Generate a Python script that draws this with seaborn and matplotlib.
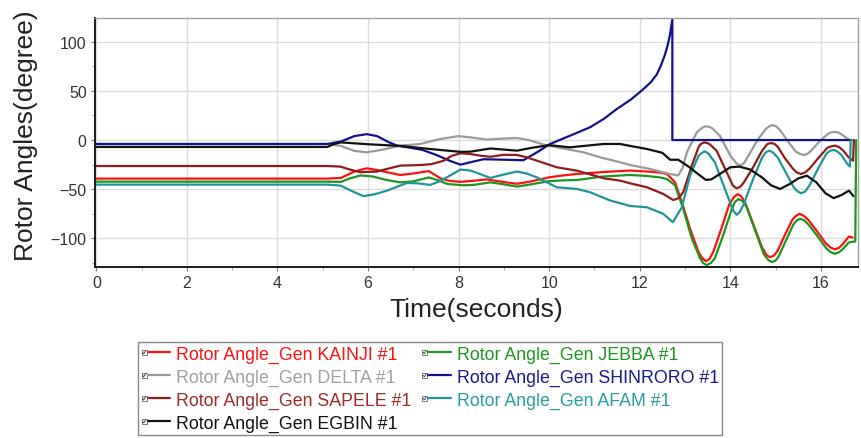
import numpy as np
import pandas as pd
import matplotlib
matplotlib.use("Agg")
import matplotlib.pyplot as plt
from matplotlib.lines import Line2D
from matplotlib.patches import Rectangle
from matplotlib.legend_handler import HandlerBase
from matplotlib.ticker import MultipleLocator
import seaborn as sns

# Rotor angle traces (time in s, angle in degrees) for each generator
kainji_t = [0, 5.1, 5.4, 5.7, 5.97, 6.2, 6.42, 6.71, 7.0, 7.34, 7.6, 7.8, 8.04, 8.3, 8.62, 8.9, 9.29, 9.6, 10.0, 10.3,
            10.61, 11.2, 11.79, 12.16, 12.45, 12.6, 12.78, 12.93, 13.11, 13.3, 13.38, 13.46, 13.54, 13.63, 13.81,
            13.98, 14.08, 14.16, 14.24, 14.34, 14.52, 14.70, 14.8, 14.88, 14.96, 15.04, 15.2, 15.37, 15.45, 15.53,
            15.62, 15.72, 15.92, 16.11, 16.22, 16.31, 16.4, 16.48, 16.62, 16.7]
kainji_v = [-39.2, -39.2, -38.5, -32, -28.7, -30.5, -32.7, -35.5, -34, -31.5, -39, -41.5, -42.5, -41.5, -40, -42, -44.5,
            -42, -37.9, -36, -34.5, -32.5, -31, -32, -33, -34.5, -43, -63, -90, -114, -120, -123, -121, -113, -89,
            -65, -58, -55, -57, -65, -87, -109, -117, -119, -117.5, -113, -97, -81, -77, -75, -77, -81, -93, -105,
            -109.5, -111, -109.5, -106, -98, -99]

jebba_t = [0, 5.1, 5.4, 5.6, 5.83, 6.1, 6.4, 6.71, 7.0, 7.34, 7.55, 7.75, 8.1, 8.33, 8.7, 9.0, 9.29, 9.6, 10.0, 10.3,
           10.61, 11.2, 11.79, 12.16, 12.45, 12.6, 12.78, 12.96, 13.15, 13.33, 13.4, 13.48, 13.57, 13.66, 13.84,
           14.02, 14.1, 14.18, 14.27, 14.36, 14.55, 14.74, 14.84, 14.92, 15.0, 15.07, 15.23, 15.39, 15.46, 15.54,
           15.63, 15.73, 15.93, 16.12, 16.22, 16.31, 16.4, 16.48, 16.62, 16.76, 16.78]
jebba_v = [-42.3, -42.3, -42.5, -39, -36, -37, -40.5, -43, -42, -38, -41, -44.6, -46, -45.6, -43, -45, -47.3, -45,
           -41.8, -41, -40.6, -37, -35.5, -36.5, -38, -39.6, -46, -70, -100, -120, -125, -127, -125, -120, -97, -72,
           -63, -60, -62, -68, -92, -116, -122, -124, -122.5, -118, -102, -86, -82, -80, -81.5, -86, -98, -110,
           -114, -115.6, -114, -111, -104, -103, 0]

delta_t = [0, 5.1, 5.4, 5.7, 5.97, 6.3, 6.71, 7.15, 7.59, 8.0, 8.26, 8.62, 9.0, 9.29, 9.55, 9.87, 10.17, 10.76, 11.13,
           11.57, 11.79, 12.16, 12.67, 12.85, 12.95, 13.04, 13.26, 13.38, 13.45, 13.53, 13.6, 13.77, 14.0, 14.14,
           14.22, 14.3, 14.4, 14.6, 14.78, 14.86, 14.93, 15.01, 15.1, 15.3, 15.45, 15.55, 15.63, 15.71, 15.8, 16.0,
           16.15, 16.22, 16.3, 16.38, 16.45, 16.6, 16.66]
delta_v = [-4, -4, -6, -11, -12.5, -10, -5.7, -4, 1, 4, 2.7, 0.5, 1.5, 2, 0, -4.5, -7.4, -12.5, -17.6, -22.6, -25.4,
           -28.7, -34.5, -36, -28, -12.5, 7.8, 12.5, 13.9, 13.5, 12, 4.4, -15.9, -24, -26, -23.5, -16, 0, 11, 14,
           15.2, 14, 10, -3, -12, -14.3, -15.2, -14, -10, 0, 6, 7.8, 8.2, 7.8, 6, 1, -0.7]

shinroro_t = [0, 5.1, 5.4, 5.7, 5.97, 6.2, 6.45, 6.64, 6.88, 7.2, 7.5, 7.8, 8.04, 8.26, 8.55, 9.0, 9.43, 9.73, 10.02,
              10.46, 10.9, 11.2, 11.49, 11.8, 12.08, 12.25, 12.38, 12.47, 12.56, 12.62, 12.67, 12.72, 12.72, 16.68]
shinroro_v = [-4, -4, -1.5, 4, 6, 4, -2, -5.7, -7.4, -10, -15, -21, -25, -22.6, -19.5, -20, -20.5, -12.5, -4, 4.4,
              12.9, 21.3, 31.4, 41, 51.7, 59, 66.9, 76, 87.2, 97, 107.5, 122.7, 0, 0]

sapele_t = [0, 5.1, 5.39, 5.6, 5.83, 6.2, 6.45, 6.71, 7.15, 7.4, 7.67, 7.85, 8.04, 8.26, 8.48, 8.7, 9.0, 9.29, 9.5,
            9.73, 10.17, 10.61, 11.2, 11.57, 11.79, 12.16, 12.52, 12.74, 12.86, 12.96, 13.15, 13.3, 13.35, 13.42,
            13.49, 13.55, 13.7, 13.92, 14.06, 14.14, 14.22, 14.3, 14.5, 14.7, 14.82, 14.9, 14.98, 15.05, 15.2, 15.38,
            15.47, 15.56, 15.65, 15.75, 15.95, 16.14, 16.22, 16.31, 16.4, 16.5, 16.62, 16.71, 16.73]
sapele_v = [-26.4, -26.4, -27, -30, -32.7, -32, -29, -26, -25.4, -24.5, -21, -16, -13.5, -14.2, -15.9, -17, -15,
            -15.2, -17.5, -21, -27.7, -31.1, -38.8, -41.3, -44, -48, -54.8, -61, -59, -53, -26, -7, -4, -2.4, -3,
            -4.5, -11, -32.7, -46.5, -49, -47.5, -43, -28, -11, -4, -3, -4, -7, -18, -29, -33, -34.5, -33, -29, -18,
            -8, -6.5, -5.7, -7, -11, -18, -21, 0]

afam_t = [0, 5.1, 5.39, 5.65, 5.9, 6.15, 6.42, 6.86, 7.1, 7.37, 7.55, 7.74, 8.04, 8.26, 8.5, 8.7, 9.0, 9.29, 9.5,
          9.73, 10.17, 10.61, 10.9, 11.35, 11.79, 12.16, 12.52, 12.73, 12.93, 13.11, 13.3, 13.37, 13.44, 13.52,
          13.66, 13.88, 14.0, 14.07, 14.14, 14.21, 14.3, 14.5, 14.7, 14.78, 14.86, 14.94, 15.05, 15.25, 15.4, 15.48,
          15.56, 15.65, 15.75, 15.95, 16.12, 16.2, 16.28, 16.36, 16.45, 16.58, 16.64, 16.66]
afam_v = [-45.3, -45.3, -46.3, -52, -57, -55, -51.4, -43.6, -44, -45.6, -42.5, -37.9, -30, -31, -35, -38.5, -35,
          -32, -34, -38, -48, -49.7, -53, -61.5, -67, -68.3, -75, -83.5, -68.3, -36.2, -15.9, -13, -11.5, -14,
          -22.6, -49.7, -64, -72, -76, -73, -65, -40, -18, -12.5, -10.8, -12.5, -18, -35, -48, -52, -54, -52.5,
          -46, -28, -14, -11, -10, -11.5, -15, -24, -27, 0]

egbin_t = [0, 5.1, 5.25, 5.4, 5.97, 6.71, 7.37, 8.04, 8.26, 8.7, 9.29, 9.6, 10.0, 10.46, 11.2, 11.57, 11.79, 12.16,
           12.5, 12.67, 12.85, 13.11, 13.3, 13.46, 13.58, 13.77, 14.0, 14.2, 14.44, 14.7, 14.9, 15.1, 15.3, 15.5,
           15.69, 15.9, 16.1, 16.28, 16.45, 16.62, 16.72]
egbin_v = [-7, -7, -4, -2.4, -4.2, -6, -9.1, -12, -11.8, -8.6, -10.8, -8, -5.2, -7.4, -4, -4, -6, -9.1, -13, -20,
           -20, -28, -35, -40.5, -40, -34.5, -27.7, -27, -30, -38, -46, -49.7, -45, -39, -36.2, -43, -54, -59, -56,
           -51.4, -57]

series_names = ["Rotor Angle_Gen KAINJI #1", "Rotor Angle_Gen JEBBA #1", "Rotor Angle_Gen DELTA #1",
                "Rotor Angle_Gen SHINRORO #1", "Rotor Angle_Gen SAPELE #1", "Rotor Angle_Gen AFAM #1",
                "Rotor Angle_Gen EGBIN #1"]
series_t = [kainji_t, jebba_t, delta_t, shinroro_t, sapele_t, afam_t, egbin_t]
series_v = [kainji_v, jebba_v, delta_v, shinroro_v, sapele_v, afam_v, egbin_v]
series_colors = ["#ff1010", "#1e961e", "#9a9a9a", "#12128c", "#921c1c", "#1f9797", "#111111"]
text_colors = ["#ff1010", "#1e961e", "#a0a0a0", "#1a1a8c", "#9e2a2a", "#2a9d9d", "#111111"]

frames = []
for name, t, v in zip(series_names, series_t, series_v):
    frames.append(pd.DataFrame({"Time": t, "Angle": v, "Series": name}))
df = pd.concat(frames, ignore_index=True)

sns.set_style("white")
plt.rcParams["font.family"] = ["Liberation Sans", "DejaVu Sans"]

fig = plt.figure(figsize=(8.62, 4.39), dpi=100)
ax = fig.add_axes([95 / 862, 1 - 268 / 439, 763 / 862, 249 / 439])

sns.lineplot(data=df, x="Time", y="Angle", hue="Series", hue_order=series_names,
             palette=dict(zip(series_names, series_colors)), sort=False, estimator=None,
             linewidth=1.6, legend=False, ax=ax)

ax.set_xlim(-0.03, 16.82)
ax.set_ylim(-129, 124)
ax.xaxis.set_major_locator(MultipleLocator(2))
ax.xaxis.set_minor_locator(MultipleLocator(1))
ax.yaxis.set_major_locator(MultipleLocator(50))
ax.yaxis.set_minor_locator(MultipleLocator(25))
ax.grid(True, which="major", color="#dcdcdc", linewidth=1.0)
ax.set_axisbelow(True)

for side in ("left", "bottom"):
    ax.spines[side].set_color("#1a1a1a")
    ax.spines[side].set_linewidth(1.4)
for side in ("top", "right"):
    ax.spines[side].set_visible(True)
    ax.spines[side].set_color("#a0a0a0")
    ax.spines[side].set_linewidth(1.0)

ax.tick_params(axis="both", which="major", length=3, width=0.8, color="#777777",
               labelsize=11.5, labelcolor="#333333", pad=3, bottom=True, left=True)
ax.tick_params(axis="both", which="minor", length=2, width=0.6, color="#999999", bottom=True, left=True)

ax.set_xlabel("Time(seconds)", fontsize=19, color="#222222", labelpad=5)
ax.set_ylabel("Rotor Angles(degree)", fontsize=19, color="#222222")
ax.yaxis.set_label_coords(-0.075, 0.53)


class CheckedLine(HandlerBase):
    """Legend key: a small ticked checkbox followed by a short coloured line."""

    def create_artists(self, legend, orig_handle, xdescent, ydescent, width, height, fontsize, trans):
        yc = height / 2 - ydescent
        x0 = -xdescent
        s = 3.8
        box = Rectangle((x0, yc - s / 2), s, s, facecolor="white", edgecolor="#666666",
                        linewidth=0.6, transform=trans)
        tick = Line2D([x0 + 0.8, x0 + 1.6, x0 + 3.0], [yc, yc - 1.0, yc + 1.2],
                      color="#333333", linewidth=0.6, transform=trans)
        line = Line2D([x0 + s + 0.6, x0 + width], [yc, yc], color=orig_handle.get_color(),
                      linewidth=1.6, transform=trans)
        return [box, tick, line]


legend_order = [0, 2, 4, 6, 1, 3, 5]
handles = [Line2D([], [], color=series_colors[i]) for i in legend_order]
labels = [series_names[i] for i in legend_order]
leg = fig.legend(handles, labels, ncol=2, loc="upper left",
                 bbox_to_anchor=(138 / 862, 1 - 343 / 439), bbox_transform=fig.transFigure,
                 handler_map={Line2D: CheckedLine()}, fontsize=12.8, frameon=True, fancybox=False,
                 edgecolor="#888888", framealpha=1, borderpad=0.2, labelspacing=0.33,
                 handlelength=1.6, handletextpad=0.35, columnspacing=0.6, borderaxespad=0)
leg.get_frame().set_linewidth(1.0)
for txt, i in zip(leg.get_texts(), legend_order):
    txt.set_color(text_colors[i])

fig.savefig("out.png", dpi=100)
